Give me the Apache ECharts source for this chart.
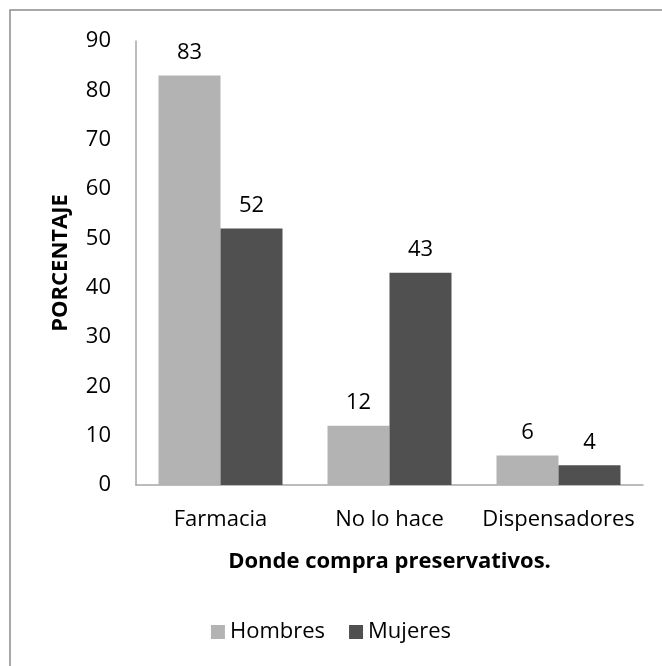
<!DOCTYPE html>
<html><head><meta charset="utf-8">
<script src="https://cdn.jsdelivr.net/npm/echarts@6/dist/echarts.min.js"></script>
<style>html,body{margin:0;padding:0;background:#fff}#c{width:662px;height:666px}</style>
</head><body><div id="c"></div>
<script>
var categories = ['Farmacia', 'No lo hace', 'Dispensadores'];
var hombres = [83, 12, 6];
var mujeres = [52, 43, 4];
var yTicks = {min: 0, max: 90, interval: 10};

var FONT = 'Open Sans';
var chart = echarts.init(document.getElementById('c'), null, {renderer: 'canvas'});
var labelStyle = {show: true, position: 'top', distance: 12, color: '#000', fontFamily: FONT, fontSize: 22};
chart.setOption({
  animation: false,
  backgroundColor: '#fff',
  graphic: [{type: 'rect', shape: {x: 10, y: 10, width: 720, height: 720}, style: {fill: 'none', stroke: '#8c8c8c', lineWidth: 1.5}, silent: true}],
  grid: {left: 136, right: 19, top: 41, bottom: 181},
  legend: {
    bottom: 18, left: 'center', itemWidth: 14, itemHeight: 14, itemGap: 24,
    icon: 'rect',
    textStyle: {fontFamily: FONT, fontSize: 22, color: '#000'},
    data: ['Hombres', 'Mujeres']
  },
  xAxis: {
    type: 'category', data: categories,
    axisLine: {lineStyle: {color: '#a6a6a6', width: 1.5}},
    axisTick: {show: false},
    axisLabel: {interval: 0, fontFamily: FONT, fontSize: 22, color: '#000', margin: 24},
    name: 'Donde compra preservativos.', nameLocation: 'middle', nameGap: 66,
    nameTextStyle: {fontFamily: FONT, fontSize: 22, fontWeight: 'bold', color: '#000'}
  },
  yAxis: {
    type: 'value', min: yTicks.min, max: yTicks.max, interval: yTicks.interval,
    axisLine: {show: true, lineStyle: {color: '#a6a6a6', width: 1.5}},
    axisTick: {show: false},
    splitLine: {show: false},
    axisLabel: {fontFamily: FONT, fontSize: 22, color: '#000', margin: 25},
    name: 'PORCENTAJE', nameLocation: 'middle', nameGap: 64, nameRotate: 90,
    nameTextStyle: {fontFamily: FONT, fontSize: 22, fontWeight: 'bold', color: '#000'}
  },
  series: [
    {name: 'Hombres', type: 'bar', data: hombres, barWidth: 62, barGap: '0%', itemStyle: {color: '#b3b3b3'}, label: labelStyle},
    {name: 'Mujeres', type: 'bar', data: mujeres, barWidth: 62, barGap: '0%', itemStyle: {color: '#505050'}, label: labelStyle}
  ]
});
</script></body></html>
